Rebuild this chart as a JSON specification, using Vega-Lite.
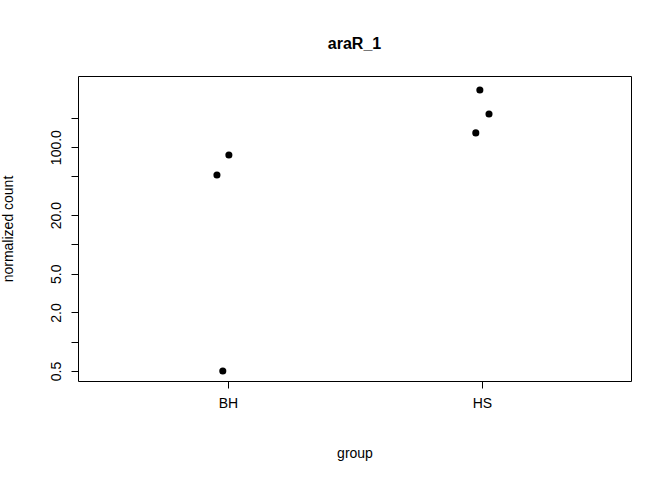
{
  "$schema": "https://vega.github.io/schema/vega-lite/v6.json",
  "width": 553,
  "height": 305,
  "autosize": {"type": "none"},
  "padding": {"left": 78, "top": 76, "right": 41, "bottom": 99},
  "background": "white",
  "title": {"text": "araR_1", "font": "Liberation Sans", "fontSize": 16, "fontWeight": "bold", "offset": 24, "anchor": "middle"},
  "config": {"view": {"stroke": "black", "strokeWidth": 1}, "axis": {"grid": false, "domain": false, "labelFont": "Liberation Sans", "titleFont": "Liberation Sans", "labelFontSize": 14, "titleFontSize": 14, "titleFontWeight": "normal", "tickColor": "black", "labelColor": "black", "titleColor": "black", "tickSize": 7}},
  "data": {"values": [
    {"g": 0.957, "count": 51.7},
    {"g": 1.004, "count": 83},
    {"g": 0.98, "count": 0.5},
    {"g": 1.992, "count": 386},
    {"g": 2.028, "count": 219},
    {"g": 1.976, "count": 140}
  ]},
  "mark": {"type": "circle", "size": 50, "color": "black", "opacity": 1},
  "encoding": {
    "x": {"field": "g", "type": "quantitative", "scale": {"domain": [0.41, 2.587], "nice": false, "zero": false},
      "axis": {"values": [1, 2], "labelExpr": "datum.value == 1 ? 'BH' : 'HS'", "title": "group", "titlePadding": 36, "labelPadding": 8}},
    "y": {"field": "count", "type": "quantitative", "scale": {"type": "log", "domain": [0.395, 538], "nice": false},
      "axis": {"values": [0.5, 1, 2, 5, 10, 20, 50, 100, 200], "format": ".1f", "labelExpr": "indexof([1,10,50,200], datum.value) >= 0 ? '' : format(datum.value, '.1f')", "labelAngle": -90, "labelAlign": "center", "labelBaseline": "bottom", "labelPadding": 8, "title": "normalized count", "titlePadding": 34}}
  }
}
